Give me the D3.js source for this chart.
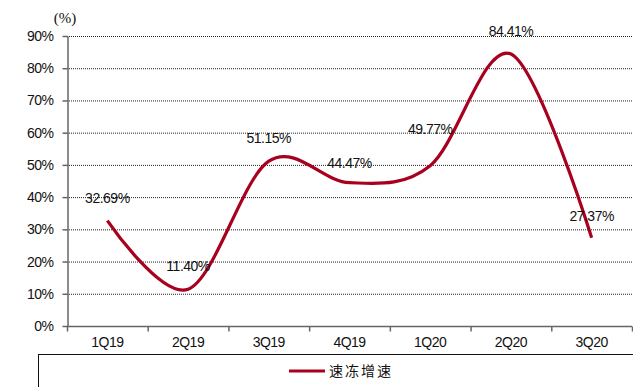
<!DOCTYPE html>
<html>
<head>
<meta charset="utf-8">
<script src="https://cdn.jsdelivr.net/npm/d3@7"></script>
<style>
  html, body { margin: 0; padding: 0; background: #fff; }
  svg { display: block; }
</style>
</head>
<body>
<svg id="chart" width="633" height="387"></svg>
<script>
// Quarterly growth of frozen food sales (%)
const quarters = ["1Q19", "2Q19", "3Q19", "4Q19", "1Q20", "2Q20", "3Q20"];
const growth = [32.69, 11.40, 51.15, 44.47, 49.77, 84.41, 27.37];
const yTicks = [0, 10, 20, 30, 40, 50, 60, 70, 80, 90];
const seriesName = "速冻增速";

// label offsets (dx, dy) relative to each point
const labelOffsets = [[0, -18], [0, -18], [0, -18], [0, -15], [0, -32], [0, -18], [0, -17]];

const svg = d3.select("#chart");
const plotLeft = 67, plotRight = 632, plotTop = 36, plotBottom = 326;
const color = "#A8001E";
const sans = "Liberation Sans, Arial, sans-serif";
const fs = 14, ls = "-0.5";

const x = d3.scaleBand().domain(quarters).range([plotLeft, plotRight]).padding(0);
const y = d3.scaleLinear().domain([0, 90]).range([plotBottom, plotTop]);

// horizontal dotted grid
svg.append("g")
  .selectAll("line")
  .data(yTicks.filter(d => d > 0))
  .join("line")
  .attr("x1", plotLeft).attr("x2", plotRight)
  .attr("y1", d => y(d) + 0.5).attr("y2", d => y(d) + 0.5)
  .attr("stroke", "#222")
  .attr("stroke-width", 1)
  .attr("stroke-dasharray", "1,1");

// y axis
const yAxis = svg.append("g")
  .attr("transform", `translate(${plotLeft + 0.5},0)`)
  .call(d3.axisLeft(y).tickValues(yTicks).tickFormat(d => d + "%").tickSize(5).tickSizeOuter(0));
yAxis.attr("font-family", sans).attr("font-size", fs);
yAxis.select(".domain").attr("stroke", "#666").attr("stroke-width", 1.5);
yAxis.selectAll(".tick line").attr("stroke", "#666").attr("stroke-width", 1.5);
yAxis.selectAll(".tick text")
  .attr("x", -14)
  .attr("letter-spacing", ls)
  .attr("fill", "#111");

// x axis with ticks between categories
const xAxisG = svg.append("g")
  .attr("transform", `translate(0,${plotBottom + 0.5})`)
  .attr("font-family", sans)
  .attr("font-size", fs);
xAxisG.append("line")
  .attr("x1", plotLeft).attr("x2", plotRight)
  .attr("stroke", "#666").attr("stroke-width", 1.5);
const boundaries = quarters.map(q => x(q)).concat([x(quarters[quarters.length - 1]) + x.bandwidth()]);
xAxisG.selectAll("line.tk")
  .data(boundaries)
  .join("line")
  .attr("class", "tk")
  .attr("x1", d => d + 0.5).attr("x2", d => d + 0.5)
  .attr("y1", 0).attr("y2", 5)
  .attr("stroke", "#666").attr("stroke-width", 1.5);
xAxisG.selectAll("text")
  .data(quarters)
  .join("text")
  .attr("x", d => x(d) + x.bandwidth() / 2)
  .attr("y", 20)
  .attr("text-anchor", "middle")
  .attr("letter-spacing", ls)
  .attr("fill", "#111")
  .text(d => d);

// unit label
svg.append("text")
  .attr("x", 65).attr("y", 23)
  .attr("text-anchor", "middle")
  .attr("font-family", "Liberation Serif, serif")
  .attr("font-size", 15)
  .attr("fill", "#111")
  .text("(%)");

// smoothed series line
const line = d3.line()
  .x((d, i) => x(quarters[i]) + x.bandwidth() / 2)
  .y(d => y(d))
  .curve(d3.curveCardinal.tension(0));

svg.append("path")
  .datum(growth)
  .attr("d", line)
  .attr("fill", "none")
  .attr("stroke", color)
  .attr("stroke-width", 3.2)
  .attr("stroke-linejoin", "round");

// value labels
svg.append("g")
  .attr("font-family", sans)
  .attr("font-size", fs)
  .selectAll("text")
  .data(growth)
  .join("text")
  .attr("x", (d, i) => x(quarters[i]) + x.bandwidth() / 2 + labelOffsets[i][0])
  .attr("y", (d, i) => y(d) + labelOffsets[i][1])
  .attr("text-anchor", "middle")
  .attr("letter-spacing", ls)
  .attr("fill", "#111")
  .text(d => d.toFixed(2) + "%");

// legend box
svg.append("rect")
  .attr("x", 38.5).attr("y", 354.5)
  .attr("width", 620).attr("height", 60)
  .attr("fill", "none")
  .attr("stroke", "#111")
  .attr("stroke-width", 1);
svg.append("line")
  .attr("x1", 289).attr("x2", 325)
  .attr("y1", 371).attr("y2", 371)
  .attr("stroke", color)
  .attr("stroke-width", 3.2);
svg.append("text")
  .attr("x", 329).attr("y", 376)
  .attr("font-family", "Noto Sans CJK SC, sans-serif")
  .attr("font-size", 14)
  .attr("letter-spacing", "2")
  .attr("fill", "#111")
  .text(seriesName);
</script>
</body>
</html>
